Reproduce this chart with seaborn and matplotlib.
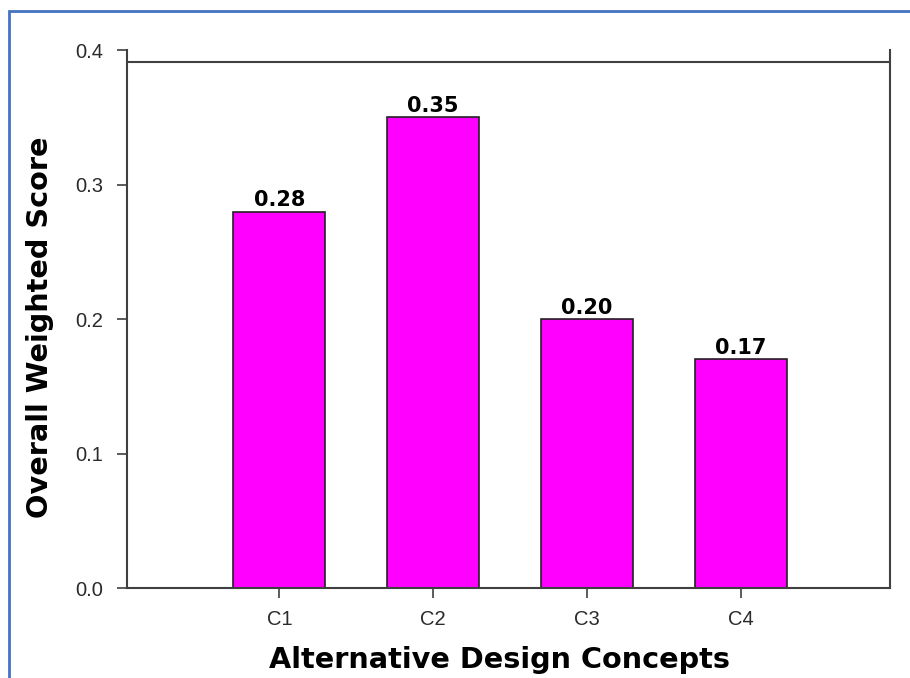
import matplotlib
matplotlib.use("Agg")
import matplotlib.pyplot as plt
from matplotlib.patches import Rectangle
import seaborn as sns
import pandas as pd

# values
concepts = ["C1", "C2", "C3", "C4"]
scores = [0.28, 0.35, 0.20, 0.17]
score_labels = ["0.28", "0.35", "0.20", "0.17"]
y_ticks = [0.0, 0.1, 0.2, 0.3, 0.4]

df = pd.DataFrame({"concept": concepts, "score": scores})

sns.set_theme(style="white")
plt.rcParams["font.family"] = ["Liberation Sans", "DejaVu Sans"]

fig = plt.figure(figsize=(9.1, 6.78), dpi=100)
ax = fig.add_axes([0.1396, 0.1327, 0.978 - 0.1396, 0.926 - 0.1327])

sns.barplot(data=df, x="concept", y="score", color="#ff00ff", saturation=1,
            width=0.6, edgecolor="#222222", linewidth=1.2, ax=ax)

# value labels on top of bars (wide heavy font like the original)
for i, (v, lab) in enumerate(zip(scores, score_labels)):
    ax.text(i, v + 0.001, lab, ha="center", va="bottom", family="DejaVu Sans",
            fontsize=15, fontweight="bold", color="black")

ax.set_xlim(-0.99, 3.97)
ax.set_ylim(0, 0.4)
tick_font = dict(family="Liberation Sans", fontsize=14.5, color="#2a2a2a")
ax.set_xticks(range(len(concepts)), concepts, **tick_font)
ax.set_yticks(y_ticks, [f"{t:.1f}" for t in y_ticks], **tick_font)

# top "frame" line sits slightly below the 0.4 tick
ax.spines["top"].set_visible(False)
ax.axhline(0.391, color="#404040", lw=1.5)
for s in ["left", "right", "bottom"]:
    ax.spines[s].set_color("#404040")
    ax.spines[s].set_linewidth(1.5)

ax.tick_params(axis="both", direction="out", length=7, width=1.2, color="#404040")
ax.tick_params(axis="x", pad=9, bottom=True)
ax.tick_params(axis="y", pad=10, left=True)

ax.set_xlabel("Alternative Design Concepts", family="DejaVu Sans", fontsize=20.7,
              fontweight="bold", color="black")
ax.set_ylabel("Overall Weighted Score", family="DejaVu Sans", fontsize=20.7,
              fontweight="bold", color="black")
ax.xaxis.set_label_coords(0.4876, -0.108)
ax.yaxis.set_label_coords(-0.0957, 0.485)

# blue frame around the figure
fig.patches.append(Rectangle((9 / 910, -0.1), 1.2, 1 - 11 / 678 + 0.1,
                             transform=fig.transFigure, fill=False,
                             edgecolor="#4472c4", lw=2, zorder=10))

fig.savefig("out.png", dpi=100)
